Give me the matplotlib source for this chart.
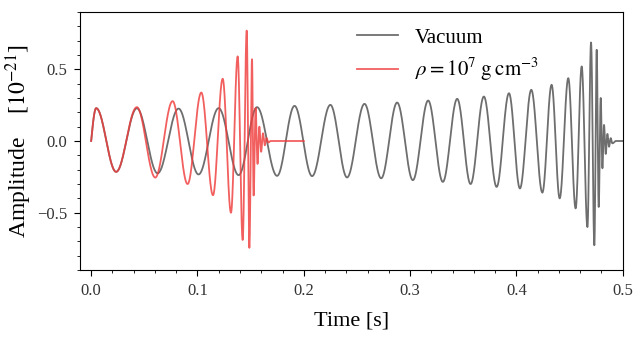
import numpy as np
import matplotlib
matplotlib.use("Agg")
import matplotlib.pyplot as plt
from matplotlib.ticker import MultipleLocator

# Extrema (time [s], amplitude [1e-21])
vac_t = [0.0, 0.0047, 0.0235, 0.043, 0.0625, 0.0822, 0.101, 0.1199, 0.1387, 0.156,
         0.1749, 0.1913, 0.2078, 0.225, 0.2407, 0.2571, 0.2728, 0.2878, 0.3026, 0.317,
         0.3308, 0.3443, 0.3569, 0.3694, 0.3814, 0.393, 0.4033, 0.414, 0.4244, 0.4331,
         0.4407, 0.4488, 0.4557, 0.4614, 0.4668, 0.4702, 0.4733, 0.4755, 0.4774, 0.4793,
         0.4809, 0.4824, 0.484, 0.4856, 0.4871, 0.4887, 0.4902, 0.493, 0.5]
vac_a = [0.0, 0.229, -0.215, 0.228, -0.225, 0.226, -0.233, 0.229, -0.238, 0.236,
         -0.243, 0.245, -0.245, 0.252, -0.254, 0.259, -0.26, 0.268, -0.273, 0.282,
         -0.285, 0.294, -0.30, 0.31, -0.32, 0.333, -0.331, 0.357, -0.36, 0.392,
         -0.40, 0.438, -0.47, 0.52, -0.60, 0.687, -0.727, 0.636, -0.46, 0.30,
         -0.19, 0.112, -0.09, 0.049, -0.04, 0.02, -0.016, 0.0, 0.0]

rho_t = [0.0, 0.0047, 0.0235, 0.043, 0.0603, 0.0766, 0.0907, 0.1036, 0.1146, 0.1237,
         0.1315, 0.1378, 0.1425, 0.1463, 0.1488, 0.1513, 0.1528, 0.1547, 0.1565, 0.1582,
         0.1599, 0.1616, 0.1633, 0.165, 0.1667, 0.1685, 0.2]
rho_a = [0.0, 0.229, -0.215, 0.236, -0.255, 0.278, -0.30, 0.338, -0.378, 0.434,
         -0.50, 0.59, -0.69, 0.77, -0.745, 0.57, -0.38, 0.23, -0.16, 0.10,
         -0.075, 0.054, -0.03, 0.02, -0.01, 0.0, 0.0]

labels = ["Vacuum", r"$\rho = 10^7\;\mathrm{g\;cm^{-3}}$"]


def waveform(te, ae, n=40):
    """Smooth oscillation passing through the listed extrema."""
    ts, ys = [], []
    for i in range(len(te) - 1):
        t0, t1, a0, a1 = te[i], te[i + 1], ae[i], ae[i + 1]
        s = np.linspace(0, 1, n, endpoint=False)
        if a0 == 0 and a1 == 0:
            y = np.zeros_like(s)
        elif a0 == 0:
            y = a1 * np.sin(0.5 * np.pi * s)
        elif a1 == 0:
            y = a0 * np.cos(0.5 * np.pi * s)
        else:
            y = 0.5 * (a0 + a1) + 0.5 * (a0 - a1) * np.cos(np.pi * s)
        ts.append(t0 + s * (t1 - t0))
        ys.append(y)
    ts.append([te[-1]])
    ys.append([ae[-1]])
    return np.concatenate(ts), np.concatenate(ys)


plt.rcParams["font.family"] = ["Liberation Serif", "DejaVu Serif"]
plt.rcParams["mathtext.fontset"] = "stix"

fig = plt.figure(figsize=(6.4, 3.41), dpi=100)
ax = fig.add_axes([0.125, 0.208, 0.848, 0.757])

tv, yv = waveform(vac_t, vac_a)
tr, yr = waveform(rho_t, rho_a)
ax.plot(tv, yv, color="#555555", alpha=0.85, lw=1.3, label=labels[0])
ax.plot(tr, yr, color="#f03c3c", alpha=0.82, lw=1.3, label=labels[1])

ax.set_xlim(-0.0105, 0.5)
ax.set_ylim(-0.9, 0.9)
ax.xaxis.set_major_locator(MultipleLocator(0.1))
ax.xaxis.set_minor_locator(MultipleLocator(0.02))
ax.yaxis.set_major_locator(MultipleLocator(0.5))
ax.yaxis.set_minor_locator(MultipleLocator(0.1))
ax.tick_params(which="both", direction="out", top=False, right=False,
               labelsize=12, labelcolor="#333333", pad=5)
ax.tick_params(which="major", length=4, width=0.8)
ax.tick_params(which="minor", length=2.5, width=0.6)

ax.set_xlabel("Time [s]", fontsize=16, labelpad=9)
ax.set_ylabel(r"Amplitude    [$10^{-21}$]", fontsize=17, labelpad=2)

ax.legend(loc="upper left", bbox_to_anchor=(0.475, 1.01), frameon=False,
          fontsize=15, handlelength=2.0, handletextpad=0.8, labelspacing=0.4)

fig.savefig("out.png", dpi=100)
